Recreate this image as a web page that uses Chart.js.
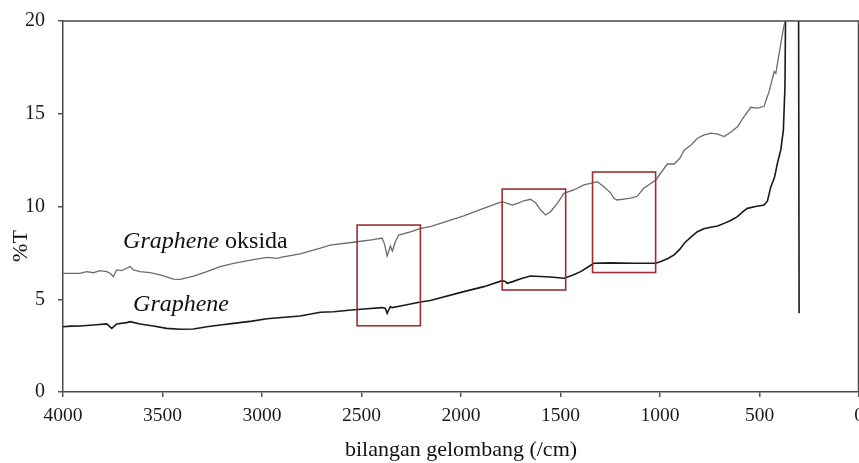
<!DOCTYPE html>
<html><head><meta charset="utf-8">
<script src="https://cdn.jsdelivr.net/npm/chart.js@4/dist/chart.umd.min.js"></script>
<style>html,body{margin:0;padding:0;background:#fff;overflow:hidden}</style>
</head><body>
<canvas id="c" width="859" height="463"></canvas>
<script>
// ---- data ----
const goWavenumber = [4000,3960,3914,3881,3847,3814,3780,3763,3747,3730,3705,3680,3663,3646,3613,3562,3512,3445,3411,3344,3277,3210,3143,3050,2975,2925,2900,2808,2707,2657,2522,2450,2397,2385,2371,2360,2355,2345,2330,2313,2250,2204,2154,1986,1900,1818,1793,1768,1743,1709,1684,1651,1625,1600,1575,1550,1516,1483,1433,1382,1349,1315,1282,1250,1231,1215,1180,1147,1114,1082,1021,990,963,929,900,878,845,812,780,745,710,678,645,611,580,544,510,477,452,426,418,401,384,372,360];
const goTransmittance = [6.40,6.40,6.40,6.49,6.43,6.54,6.49,6.40,6.22,6.58,6.54,6.67,6.76,6.58,6.49,6.43,6.31,6.09,6.07,6.25,6.49,6.76,6.94,7.12,7.26,7.20,7.27,7.44,7.75,7.92,8.10,8.20,8.30,8.00,7.33,7.70,7.87,7.60,8.10,8.46,8.65,8.82,8.91,9.50,9.85,10.17,10.26,10.17,10.08,10.20,10.31,10.39,10.20,9.81,9.54,9.72,10.17,10.71,10.89,11.16,11.25,11.34,11.07,10.75,10.44,10.35,10.40,10.45,10.55,10.98,11.43,11.90,12.29,12.29,12.60,13.05,13.30,13.68,13.85,13.95,13.90,13.77,14.00,14.30,14.80,15.35,15.30,15.40,16.19,17.27,17.18,18.26,19.34,20.00,22.00];

const grWavenumber = [4000,3960,3914,3847,3780,3755,3730,3680,3663,3613,3546,3479,3411,3344,3277,3210,3143,3050,2975,2900,2808,2707,2640,2550,2472,2397,2380,2371,2360,2355,2346,2304,2204,2154,1986,1885,1793,1775,1768,1740,1700,1651,1550,1483,1440,1399,1360,1332,1250,1131,1021,996,960,929,900,878,845,812,780,745,710,678,645,611,580,561,520,477,460,443,426,418,410,393,380,372,369,366,305,301];
const grTransmittance = [3.52,3.55,3.56,3.61,3.67,3.43,3.67,3.74,3.79,3.67,3.56,3.43,3.38,3.40,3.52,3.61,3.70,3.82,3.95,4.02,4.10,4.30,4.33,4.42,4.49,4.55,4.50,4.24,4.50,4.60,4.55,4.64,4.85,4.93,5.41,5.68,6.00,5.95,5.86,5.95,6.10,6.25,6.20,6.13,6.30,6.49,6.75,6.94,6.96,6.94,6.94,7.03,7.20,7.39,7.70,8.02,8.35,8.64,8.80,8.88,8.95,9.09,9.25,9.45,9.75,9.90,10.00,10.08,10.30,11.07,11.52,11.90,12.33,13.05,14.12,16.50,20.50,30.00,30.00,4.24];

const xTickValues = [4000,3500,3000,2500,2000,1500,1000,500,0];
const yTickValues = [0,5,10,15,20];

// highlighted regions (wavenumber range, %T range)
const boxWavenumberHigh = [2522,1793,1339];
const boxWavenumberLow  = [2204,1474,1022];
const boxTLow  = [3.57,5.50,6.44];
const boxTHigh = [9.00,10.94,11.86];

// series labels
const labelItalic = ['Graphene','Graphene'];
const labelRest   = [' oksida',''];
const labelWavenumber = [3698,3648];
const labelT = [8.09,4.69];

const yAxisTitle = '%T';
const xAxisTitle = 'bilangan gelombang (/cm)';

// ---- build ----
const serif = "'Liberation Serif','Times New Roman',serif";
const toPts = (xs, ys) => xs.map((x,i)=>({x:x,y:ys[i]}));

const decor = {
  id:'decor',
  afterDatasetsDraw(chart){
    const {ctx, chartArea:a, scales:{x,y}} = chart;
    ctx.save();
    // frame top/right
    ctx.strokeStyle='#4a4a4a'; ctx.lineWidth=1.5;
    ctx.beginPath();
    ctx.moveTo(a.left,a.top); ctx.lineTo(a.right-0.5,a.top); ctx.lineTo(a.right-0.5,a.bottom);
    ctx.stroke();
    // boxes
    ctx.strokeStyle='#9c2f2f'; ctx.lineWidth=1.6;
    for(let i=0;i<boxWavenumberHigh.length;i++){
      const x1=x.getPixelForValue(boxWavenumberHigh[i]), x2=x.getPixelForValue(boxWavenumberLow[i]);
      const y1=y.getPixelForValue(boxTHigh[i]), y2=y.getPixelForValue(boxTLow[i]);
      ctx.strokeRect(x1,y1,x2-x1,y2-y1);
    }
    // labels
    ctx.fillStyle='#111'; ctx.textBaseline='middle'; ctx.textAlign='left';
    for(let i=0;i<labelItalic.length;i++){
      const px=x.getPixelForValue(labelWavenumber[i]), py=y.getPixelForValue(labelT[i]);
      ctx.font="italic 24px "+serif;
      ctx.fillText(labelItalic[i],px,py);
      const w=ctx.measureText(labelItalic[i]).width;
      ctx.font="24px "+serif;
      ctx.fillText(labelRest[i],px+w,py);
    }
    // y axis title (sits below the middle in the reference)
    ctx.translate(21, 246);
    ctx.rotate(-Math.PI/2);
    ctx.font="22px "+serif; ctx.textAlign='center'; ctx.textBaseline='middle';
    ctx.fillText(yAxisTitle,0,0);
    ctx.restore();
  }
};

new Chart(document.getElementById('c'), {
  type:'line',
  data:{datasets:[
    {label:'Graphene oksida', data:toPts(goWavenumber,goTransmittance), borderColor:'#6b6b6b', borderWidth:1.3, pointRadius:0, tension:0},
    {label:'Graphene', data:toPts(grWavenumber,grTransmittance), borderColor:'#1a1a1a', borderWidth:1.6, pointRadius:0, tension:0}
  ]},
  options:{
    responsive:false, animation:false, devicePixelRatio:1,
    layout:{padding:{top:21,right:0,bottom:0,left:0}},
    plugins:{legend:{display:false}, tooltip:{enabled:false}},
    scales:{
      x:{
        type:'linear', reverse:true, min:0, max:4000,
        afterBuildTicks(s){ s.ticks = xTickValues.map(v=>({value:v})); },
        afterFit(s){ s.height=71; s.paddingLeft=0; s.paddingRight=0; },
        ticks:{color:'#1a1a1a', font:{family:serif,size:19.5}, padding:7, maxRotation:0, autoSkip:false, callback:v=>String(v)},
        grid:{drawOnChartArea:false, drawTicks:true, tickLength:5, color:'#555', lineWidth:1.5},
        border:{color:'#4a4a4a', width:1.5},
        title:{display:true, text:xAxisTitle, color:'#111', font:{family:serif,size:22}, padding:{top:0,bottom:0}}
      },
      y:{
        min:0, max:20,
        afterBuildTicks(s){ s.ticks = yTickValues.map(v=>({value:v})); },
        afterFit(s){ s.width=63; s.paddingTop=0; s.paddingBottom=0; },
        ticks:{color:'#1a1a1a', font:{family:serif,size:20}, padding:13, callback:v=>String(v)},
        grid:{drawOnChartArea:false, drawTicks:true, tickLength:5, color:'#555', lineWidth:1.5},
        border:{color:'#4a4a4a', width:1.5},
        title:{display:false}
      }
    }
  },
  plugins:[decor]
});
</script>
</body></html>
